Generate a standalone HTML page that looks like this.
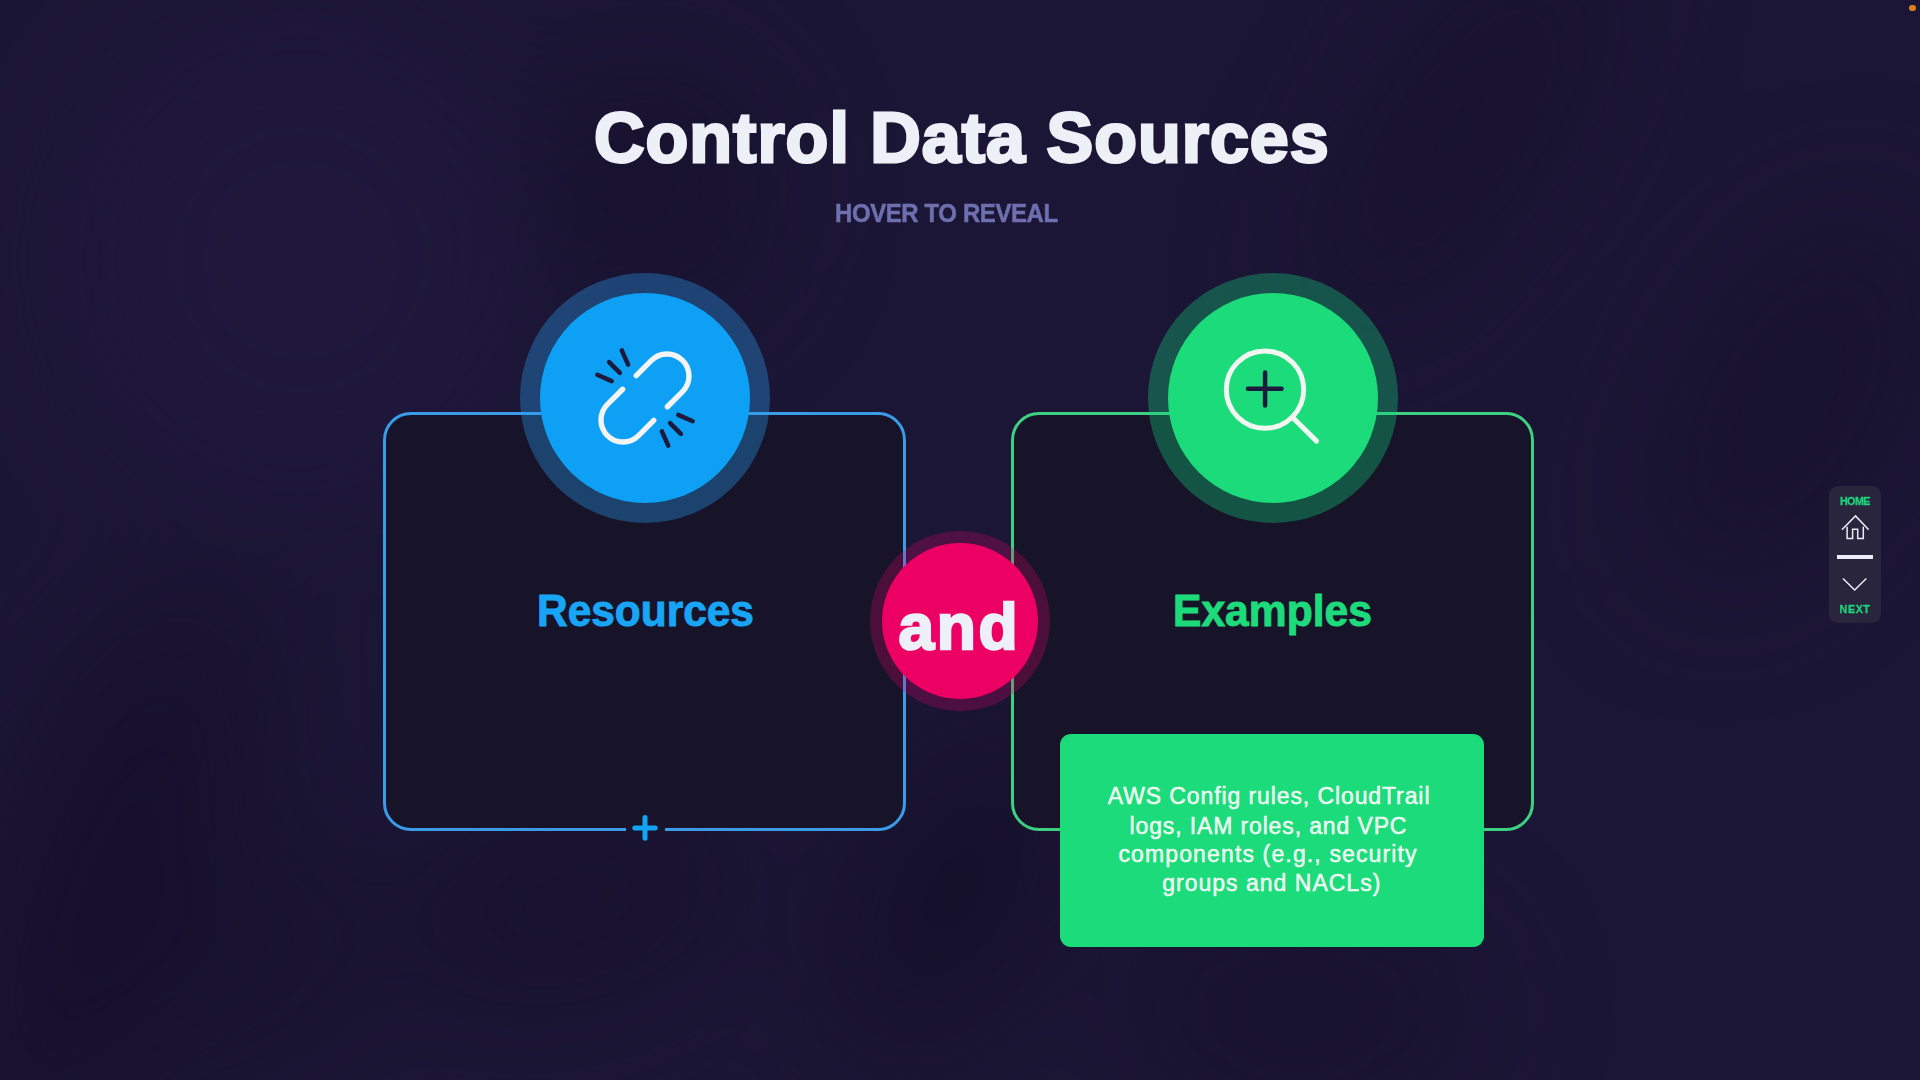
<!DOCTYPE html>
<html>
<head>
<meta charset="utf-8">
<style>
html,body{margin:0;padding:0;width:1920px;height:1080px;overflow:hidden;}
body{background:#1c1636;position:relative;font-family:"Liberation Sans",sans-serif;}
.abs{position:absolute;}
.t{position:absolute;white-space:nowrap;line-height:100px;}
.b{font-weight:bold;}
.card{position:absolute;top:412px;width:523px;height:419px;box-sizing:border-box;border:3px solid;border-radius:28px;background:#17142a;}
.c1{left:383px;border-color:#3a9ce8;}
.c2{left:1011px;border-color:#3dd080;}
.ring{position:absolute;border-radius:50%;}
.g{font-size:23px;color:#eefaf2;-webkit-text-stroke:0.5px #eefaf2;}
</style>
</head>
<body>
<svg class="abs" style="left:0;top:0" width="1920" height="1080" viewBox="0 0 1920 1080">
  <defs><filter id="bl" x="-50%" y="-50%" width="200%" height="200%" color-interpolation-filters="sRGB"><feGaussianBlur stdDeviation="70"/></filter></defs>
  <g filter="url(#bl)">
    <ellipse cx="300" cy="260" rx="220" ry="230" fill="#211a42" opacity="0.5"/>
    <ellipse cx="1460" cy="130" rx="60" ry="230" transform="rotate(35 1460 130)" fill="#120d26" opacity="0.55"/>
    <ellipse cx="1790" cy="400" rx="80" ry="200" transform="rotate(30 1790 400)" fill="#120d26" opacity="0.5"/>
    <ellipse cx="650" cy="190" rx="100" ry="110" fill="#120d26" opacity="0.55"/>
    <ellipse cx="110" cy="880" rx="100" ry="300" transform="rotate(20 110 880)" fill="#120d26" opacity="0.65"/>
    <ellipse cx="570" cy="900" rx="170" ry="80" transform="rotate(-15 570 900)" fill="#120d26" opacity="0.55"/>
    <ellipse cx="955" cy="890" rx="70" ry="170" transform="rotate(30 955 890)" fill="#0e0b20" opacity="0.7"/>
    <ellipse cx="1300" cy="1010" rx="170" ry="80" fill="#120d26" opacity="0.5"/>
    <ellipse cx="270" cy="960" rx="70" ry="110" transform="rotate(30 270 960)" fill="#120d26" opacity="0.5"/>
  </g>
</svg>
<div class="t b" style="left:594px;top:87.5px;font-size:70px;letter-spacing:1px;-webkit-text-stroke:2.8px #eef0f7;color:#eef0f7;">Control Data Sources</div>
<div class="t b" style="left:835.1px;top:162.9px;font-size:25.5px;letter-spacing:-0.4px;transform:scaleX(0.939);transform-origin:0 0;-webkit-text-stroke:0.5px #6d6fae;color:#6d6fae;">HOVER TO REVEAL</div>

<div class="card c1"></div>
<div class="card c2"></div>

<!-- blue circle -->
<div class="ring" style="left:519.5px;top:272.8px;width:250px;height:250px;background:rgba(40,165,250,0.33);"></div>
<div class="ring" style="left:539.5px;top:292.8px;width:210px;height:210px;background:#0ea0f5;"></div>
<svg class="abs" style="left:544.5px;top:297.8px" width="200" height="200" viewBox="-100 -100 200 200">
  <g fill="none" stroke="#f2f4f8" stroke-width="5.4" stroke-linecap="round">
    <path d="M -8.76 -22.36 L 6.44 -37.56 A 22 22 0 0 1 37.56 -6.44 L 22.36 8.76"/>
    <path d="M 8.76 22.36 L -6.44 37.56 A 22 22 0 0 1 -37.56 6.44 L -22.36 -8.76"/>
  </g>
  <g fill="none" stroke="#1e1a3d" stroke-width="4.5" stroke-linecap="round">
    <path d="M -23.2 -47.7 L -16.9 -33.3 M -35.9 -35.9 L -25.1 -25.1 M -47.7 -23.2 L -33.3 -16.9"/>
    <path d="M 23.2 47.7 L 16.9 33.3 M 35.9 35.9 L 25.1 25.1 M 47.7 23.2 L 33.3 16.9"/>
  </g>
</svg>

<!-- green circle -->
<div class="ring" style="left:1147.5px;top:272.8px;width:250px;height:250px;background:rgba(16,216,123,0.33);"></div>
<div class="ring" style="left:1167.5px;top:292.8px;width:210px;height:210px;background:#1cdb7b;"></div>
<svg class="abs" style="left:1172.5px;top:297.8px" width="200" height="200" viewBox="-100 -100 200 200">
  <g fill="none" stroke="#f2f6f2" stroke-width="5" stroke-linecap="round">
    <circle cx="-8" cy="-8.4" r="38.7"/>
    <path d="M 19.4 19.3 L 43.6 43.1"/>
  </g>
  <path d="M -25 -9.2 L 8.6 -9.2 M -7.9 -25.6 L -7.9 7.6" fill="none" stroke="#1e1a3d" stroke-width="4.5" stroke-linecap="round"/>
</svg>

<div class="t b" style="left:536.5px;top:560.5px;font-size:44px;letter-spacing:0px;transform:scaleX(0.964);transform-origin:0 0;-webkit-text-stroke:1px #19a5f5;color:#19a5f5;">Resources</div>
<div class="t b" style="left:1173.1px;top:561.1px;font-size:44px;letter-spacing:0px;transform:scaleX(0.968);transform-origin:0 0;-webkit-text-stroke:1px #1ddb7b;color:#1ddb7b;">Examples</div>

<!-- plus on bottom border -->
<div class="abs" style="left:625.5px;top:828px;width:39.5px;height:3px;background:#17142a;"></div>
<svg class="abs" style="left:625px;top:808px" width="40" height="40" viewBox="0 0 40 40">
  <path d="M 9.8 20.1 L 30.2 20.1 M 20 9.5 L 20 30.3" fill="none" stroke="#12a5f6" stroke-width="5" stroke-linecap="round"/>
</svg>

<!-- and circle -->
<div class="ring" style="left:870px;top:531px;width:180px;height:180px;background:rgba(232,0,106,0.25);"></div>
<div class="ring" style="left:882px;top:543px;width:156px;height:156px;background:#ec0064;"></div>
<div class="t b" style="left:898.5px;top:576.9px;font-size:64px;letter-spacing:2.6px;-webkit-text-stroke:2.5px #edf0f7;color:#edf0f7;">and</div>

<!-- green box -->
<div class="abs" style="left:1060px;top:734px;width:424px;height:213px;background:#1cdb7b;border-radius:11px;"></div>
<div class="t g" style="left:1107.8px;top:746.4px;letter-spacing:0.9px;">AWS Config rules, CloudTrail</div>
<div class="t g" style="left:1129.5px;top:775.9px;letter-spacing:0.87px;">logs, IAM roles, and VPC</div>
<div class="t g" style="left:1118.4px;top:803.7px;letter-spacing:1.14px;">components (e.g., security</div>
<div class="t g" style="left:1162.3px;top:832.6px;letter-spacing:1px;">groups and NACLs)</div>

<!-- nav -->
<div class="abs" style="left:1829px;top:486px;width:52px;height:137px;border-radius:9px;background:#28253c;"></div>
<div class="t b" style="left:1839.9px;top:451.2px;font-size:10.7px;letter-spacing:-0.5px;-webkit-text-stroke:0.3px #1ed37a;color:#1ed37a;">HOME</div>
<svg class="abs" style="left:1835px;top:510px" width="40" height="36" viewBox="0 0 40 36">
  <path d="M 7.4 19.2 L 20.5 5.9 L 33.2 19.2 M 12.1 17.3 L 12.1 28.5 L 17.6 28.5 L 17.6 19.3 L 22.7 19.3 L 22.7 28.5 L 28.3 28.5 L 28.3 17.3" fill="none" stroke="#ecebf6" stroke-width="1.5" stroke-linecap="round"/>
</svg>
<div class="abs" style="left:1837px;top:555px;width:36px;height:4px;background:#ecedf8;"></div>
<svg class="abs" style="left:1835px;top:570px" width="40" height="30" viewBox="0 0 40 30">
  <path d="M 7.9 8.4 L 19.7 20 L 31.3 8.6" fill="none" stroke="#f0f0f8" stroke-width="1.4"/>
</svg>
<div class="t b" style="left:1839.6px;top:559px;font-size:10.7px;letter-spacing:0.6px;-webkit-text-stroke:0.3px #1ed37a;color:#1ed37a;">NEXT</div>

<!-- orange dot -->
<div class="ring" style="left:1909px;top:4.6px;width:6.6px;height:6.6px;background:#d8801e;"></div>

</body>
</html>
